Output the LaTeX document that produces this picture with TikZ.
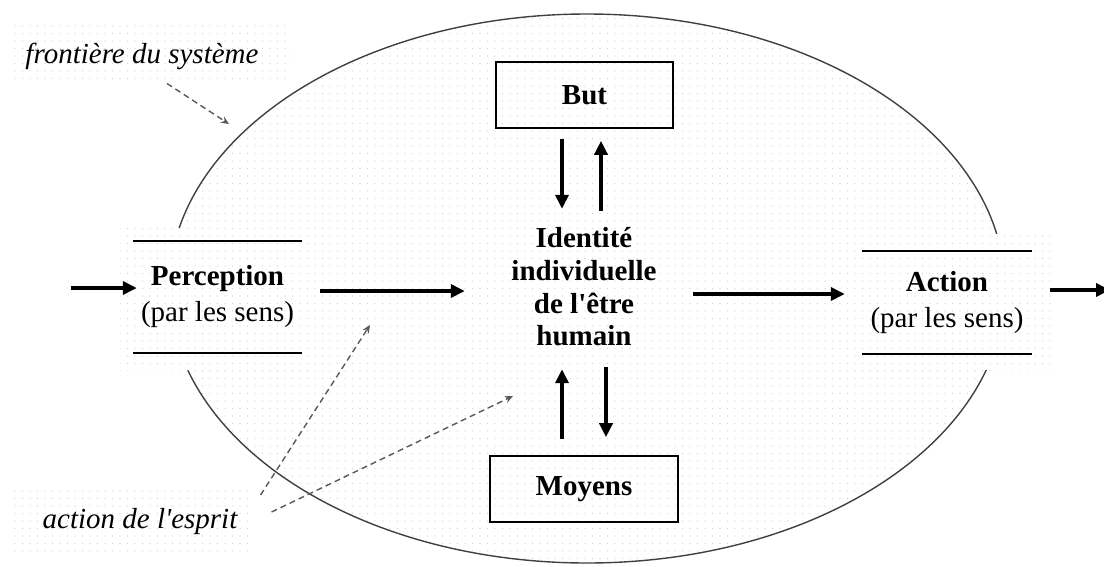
\documentclass[tikz,border=0pt]{standalone}
\usepackage{fontspec}
\setmainfont{Liberation Serif}
\usetikzlibrary{arrows.meta,calc,patterns.meta}
\begin{document}
\begin{tikzpicture}[x=1pt,y=-1pt,
  dotbg/.style={pattern={Dots[distance=7.5pt,radius=0.6pt]},pattern color=gray!38},
  txt/.style={font=\fontsize{29}{33}\selectfont,inner sep=3pt},
  boxnode/.style={draw=black,line width=1.6pt,inner sep=0pt,font=\fontsize{29}{33}\selectfont\bfseries},
  sensnode/.style={inner sep=0pt,align=center,font=\fontsize{29}{36}\selectfont},
  bigarrow/.style={line width=4pt,-{Triangle[length=14pt,width=13pt]}},
  dasharrow/.style={draw=black!65,line width=1.4pt,dash pattern=on 6pt off 4pt,-{Stealth[length=8pt,width=7pt]}},
  senseline/.style={line width=1.8pt,black}
]
\useasboundingbox (0,0) rectangle (1104,566);
% system boundary
\fill[dotbg] (587,288.5) ellipse [x radius=418,y radius=274.5];
\draw[line width=1.4pt,draw=black!75] (587,288.5) ellipse [x radius=418,y radius=274.5];
% covers for perception / action regions
\fill[white] (120,228) rectangle (312,370);
\fill[dotbg] (120,228) rectangle (312,370);
\fill[white] (848,234) rectangle (1052,370);
\fill[dotbg] (848,234) rectangle (1052,370);
% label backgrounds
\fill[dotbg] (8,24) rectangle (292,80);
\fill[dotbg] (14,487) rectangle (250,555);

% nodes
\node[boxnode,minimum width=177pt,minimum height=66pt] (but) at (584.5,95) {But};
\node[boxnode,minimum width=188pt,minimum height=66pt] (moy) at (584,489) {Moyens};
\node[inner sep=0pt,align=center,minimum width=220pt,font=\fontsize{29}{32.7}\selectfont\bfseries] (ident) at (584,287)
  {Identité\\individuelle\\de l\textquotesingle être\\humain};
\node[sensnode,minimum width=169pt,minimum height=112pt] (perc) at (217.5,297)
  {\textbf{Perception}\\(par les sens)};
\node[sensnode,minimum width=170pt,minimum height=103pt] (act) at (947,302.5)
  {\textbf{Action}\\(par les sens)};
\node[txt,anchor=base,font=\fontsize{29}{33}\selectfont\itshape] (front) at (142,63) {frontière du système};
\node[txt,anchor=base,font=\fontsize{29}{33}\selectfont\itshape] (esprit) at (140,528) {action de l\textquotesingle esprit};

% perception / action bars
\draw[senseline] (perc.north west) -- (perc.north east);
\draw[senseline] (perc.south west) -- (perc.south east);
\draw[senseline] (act.north west) -- (act.north east);
\draw[senseline] (act.south west) -- (act.south east);

% free ends
\coordinate (inL) at (71,288);
\coordinate (outR) at (1110,290);
\coordinate (fb) at (229,124);
\coordinate (e1) at (370,325);
\coordinate (e2) at (513,396);

% main flow
\draw[bigarrow,shorten >=-4pt] (inL) -- (perc.west |- inL);
\draw[bigarrow,shorten <=18pt,shorten >=9pt] (perc.east |- 0,291) -- (ident.west |- 0,291);
\draw[bigarrow,shorten <=-1pt,shorten >=17pt] (ident.east |- 0,294) -- (act.west |- 0,294);
\draw[bigarrow,shorten <=18pt] (act.east |- outR) -- (outR);

% goal / means exchanges
\draw[bigarrow] ($(but.south)+(-22.5,10)$) -- ++(0,70);
\draw[bigarrow] ($(but.south)+(16.5,82)$) -- ++(0,-70);
\draw[bigarrow] ($(moy.north)+(-22,-16)$) -- ++(0,-70);
\draw[bigarrow] ($(moy.north)+(22,-88)$) -- ++(0,70);

% annotations
\draw[dasharrow] ($(front.south)+(25,11)$) -- (fb);
\draw[dasharrow] ($(esprit.east)+(20,-26)$) -- (e1);
\draw[dasharrow] ($(esprit.east)+(31,-9)$) -- (e2);
\end{tikzpicture}
\end{document}
